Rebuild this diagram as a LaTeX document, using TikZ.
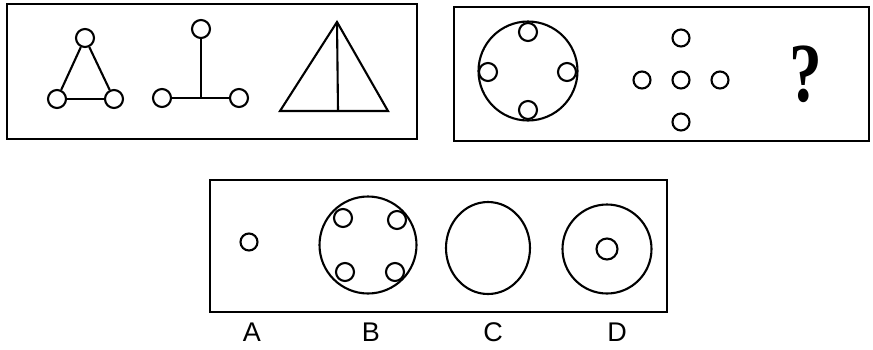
\documentclass[tikz,border=0pt]{standalone}
\usepackage{graphicx}
\usepackage{fontspec}
\setmainfont{Liberation Sans}
\newfontfamily\qfont{Liberation Serif}
\begin{document}
\begin{tikzpicture}[x=1pt,y=-1pt,
  frame/.style={draw, line width=2.4pt},
  ln/.style={line width=2.1pt},
  sc/.style={circle, draw, line width=2.1pt, minimum size=18pt, inner sep=0pt},
  bigc/.style={circle, draw, line width=2.1pt, inner sep=0pt},
  lbl/.style={font=\fontsize{27}{27}\selectfont, inner sep=0pt}]
\useasboundingbox (0,0) rectangle (873,349);
% boxes
\draw[frame] (7,4) rectangle (417,139);
\draw[frame] (454,7) rectangle (869,141);
\draw[frame] (210,180) rectangle (667,312);
% triangle of circles
\node[sc] (t1) at (85,38) {};
\node[sc] (t2) at (57,99) {};
\node[sc] (t3) at (114,99) {};
\draw[ln] (t1) -- (t2);
\draw[ln] (t1) -- (t3);
\draw[ln] (t2) -- (t3);
% T shape
\node[sc] (u1) at (201,29) {};
\node[sc] (u2) at (162,98) {};
\node[sc] (u3) at (239,98) {};
\coordinate (uj) at (201,98);
\draw[ln] (u1) -- (uj);
\draw[ln] (u2) -- (u3);
% triangle
\coordinate (pa) at (337,22);
\coordinate (pb) at (280,111);
\coordinate (pc) at (388,111);
\coordinate (pd) at (338,111);
\draw[ln, line join=miter] (pa) -- (pb) -- (pc) -- cycle;
\draw[ln] (pa) -- (pd);
% big circle with 4 small
\node[bigc, minimum size=99pt] (g) at (528,71) {};
\node[sc] (g1) at (528,32) {};
\node[sc] (g2) at (488,72) {};
\node[sc] (g3) at (567,72) {};
\node[sc] (g4) at (528,110) {};
% cross of circles
\node[sc, minimum size=17pt] (k0) at (681,80) {};
\node[sc, minimum size=17pt] (k1) at (681,38) {};
\node[sc, minimum size=17pt] (k2) at (681,122) {};
\node[sc, minimum size=17pt] (k3) at (642,80) {};
\node[sc, minimum size=17pt] (k4) at (720,80) {};
% question mark
\node[font=\qfont\bfseries\fontsize{84}{84}\selectfont, inner sep=0pt] (q) at (806,74) {\scalebox{0.78}[1]{?}};
% options
\node[sc, minimum size=17pt] (a) at (249,242) {};
\node[bigc, minimum size=97pt] (b) at (368,245) {};
\node[sc] (b1) at (343,218) {};
\node[sc] (b2) at (397,220) {};
\node[sc] (b3) at (345,272) {};
\node[sc] (b4) at (395,272) {};
\draw[line width=2.1pt] (488,248) ellipse [x radius=42, y radius=46];
\coordinate (c) at (488,248);
\node[bigc, minimum size=89pt] (d) at (607,249) {};
\node[sc, minimum size=21pt] (d1) at (607,249) {};
% labels
\node[lbl] (la) at (252,332) {A};
\node[lbl] (lb) at (371,332) {B};
\node[lbl] (lc) at (493,332) {C};
\node[lbl] (ld) at (617,332) {D};
\end{tikzpicture}
\end{document}
